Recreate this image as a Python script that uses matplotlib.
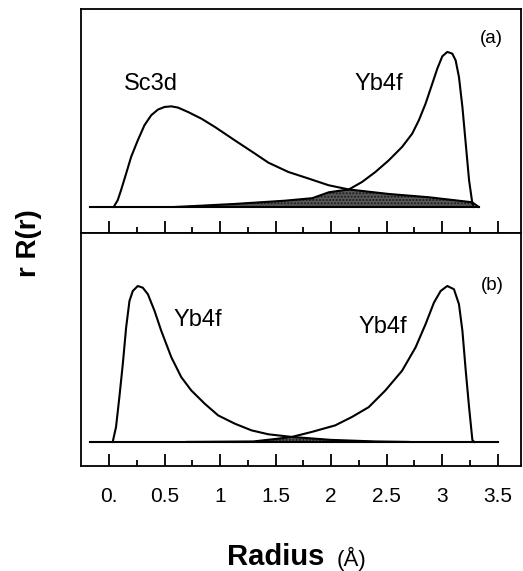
import numpy as np
import matplotlib
matplotlib.use("Agg")
import matplotlib.pyplot as plt

plt.rcParams['font.family'] = ['Liberation Sans', 'DejaVu Sans']

# panel (a): Sc3d and Yb4f radial functions (arbitrary units, Yb4f peak = 1)
sc3d_r = [0.042, 0.078, 0.108, 0.154, 0.199, 0.259, 0.319, 0.380, 0.440, 0.500, 0.561,
          0.621, 0.711, 0.832, 0.953, 1.133, 1.314, 1.435, 1.616, 1.797, 1.978, 2.16,
          2.52, 2.88, 3.27, 3.33]
sc3d_y = [0.0, 0.043, 0.107, 0.214, 0.321, 0.427, 0.524, 0.588, 0.624, 0.641, 0.645,
          0.637, 0.609, 0.566, 0.513, 0.427, 0.342, 0.284, 0.224, 0.182, 0.139, 0.112,
          0.083, 0.062, 0.030, 0.0]

yb4f_a_r = [0.60, 0.83, 1.13, 1.585, 1.83, 1.98, 2.16, 2.279, 2.399, 2.520, 2.640, 2.731,
            2.791, 2.851, 2.912, 2.957, 3.002, 3.047, 3.092, 3.122, 3.152, 3.183, 3.213,
            3.243, 3.273, 3.288]
yb4f_a_y = [0.0, 0.008, 0.019, 0.040, 0.056, 0.094, 0.112, 0.160, 0.224, 0.299, 0.385,
            0.470, 0.556, 0.662, 0.791, 0.887, 0.966, 0.994, 0.983, 0.940, 0.833, 0.641,
            0.406, 0.171, 0.021, 0.0]

# panel (b): two Yb4f functions
yb4f_l_r = [0.033, 0.063, 0.093, 0.124, 0.154, 0.184, 0.214, 0.259, 0.304, 0.350, 0.410,
            0.470, 0.561, 0.651, 0.741, 0.862, 0.983, 1.133, 1.284, 1.435, 1.646, 2.0,
            2.4, 2.7]
yb4f_l_y = [0.0, 0.096, 0.287, 0.5, 0.734, 0.904, 0.968, 1.0, 0.989, 0.947, 0.840, 0.713,
            0.543, 0.415, 0.330, 0.245, 0.170, 0.117, 0.074, 0.049, 0.032, 0.013, 0.003,
            0.0]
yb4f_r_r = [0.7, 1.3, 1.5, 1.646, 1.826, 2.037, 2.188, 2.339, 2.489, 2.640, 2.761, 2.851,
            2.927, 2.987, 3.047, 3.107, 3.152, 3.183, 3.213, 3.243, 3.273, 3.29]
yb4f_r_y = [0.0, 0.003, 0.019, 0.032, 0.064, 0.106, 0.160, 0.223, 0.330, 0.457, 0.606,
            0.755, 0.894, 0.968, 1.0, 0.979, 0.883, 0.713, 0.457, 0.223, 0.011, 0.0]

cross_a = 2.16
cross_b = 1.646
end_a = 3.288
baseline_a = (-0.17, 3.33)
baseline_b = (-0.17, 3.5)

tick_vals = [0, 0.5, 1, 1.5, 2, 2.5, 3, 3.5]
tick_labels = ["0.", "0.5", "1", "1.5", "2", "2.5", "3", "3.5"]


def style_axes(ax, ylim):
    ax.set_xlim(-0.252, 3.71)
    ax.set_ylim(*ylim)
    ax.set_yticks([])
    ax.set_xticks(tick_vals)
    ax.set_xticks(np.arange(0.25, 3.5, 0.5), minor=True)
    ax.tick_params(axis='x', which='major', direction='in', length=8.6, width=1.3,
                   labelsize=15, pad=15)
    ax.tick_params(axis='x', which='minor', direction='in', length=4.3, width=1.3)
    for s in ax.spines.values():
        s.set_linewidth(1.3)


fig = plt.figure(figsize=(5.23, 5.71), dpi=100)
ax1 = fig.add_axes([0.155, 0.592, 0.841, 0.393])
ax2 = fig.add_axes([0.155, 0.184, 0.841, 0.408])

lw = 1.5
shade = dict(facecolor='0.35', edgecolor='0.1', hatch='.....', lw=0.5)

# (a)
ax1.plot(baseline_a, [0, 0], color='black', lw=lw)
ax1.plot(sc3d_r, sc3d_y, color='black', lw=lw)
ax1.plot(yb4f_a_r, yb4f_a_y, color='black', lw=lw)
# shaded overlap: Yb4f before the crossing, Sc3d after it
ra1 = np.asarray(yb4f_a_r); ya1 = np.asarray(yb4f_a_y)
ra2 = np.asarray(sc3d_r); ya2 = np.asarray(sc3d_y)
m2 = (ra2 > cross_a) & (ra2 < end_a)
ov_r = np.concatenate([ra1[ra1 <= cross_a], ra2[m2], [end_a]])
ov_y = np.concatenate([ya1[ra1 <= cross_a], ya2[m2], [0.0]])
ax1.fill_between(ov_r, 0, ov_y, **shade)
ax1.text(0.38, 0.79, "Sc3d", fontsize=17, ha='center', va='center')
ax1.text(2.43, 0.79, "Yb4f", fontsize=17, ha='center', va='center')
ax1.text(3.44, 1.08, "(a)", fontsize=13.5, ha='center', va='center')
style_axes(ax1, (-0.167, 1.272))
ax1.set_xticklabels([])

# (b)
ax2.plot(baseline_b, [0, 0], color='black', lw=lw)
ax2.plot(yb4f_l_r, yb4f_l_y, color='black', lw=lw)
ax2.plot(yb4f_r_r, yb4f_r_y, color='black', lw=lw)
rb1 = np.asarray(yb4f_r_r); yb1 = np.asarray(yb4f_r_y)
rb2 = np.asarray(yb4f_l_r); yb2 = np.asarray(yb4f_l_y)
ovb_r = np.concatenate([rb1[rb1 <= cross_b], rb2[rb2 > cross_b]])
ovb_y = np.concatenate([yb1[rb1 <= cross_b], yb2[rb2 > cross_b]])
ax2.fill_between(ovb_r, 0, ovb_y, **shade)
ax2.text(0.80, 0.78, "Yb4f", fontsize=17, ha='center', va='center')
ax2.text(2.47, 0.74, "Yb4f", fontsize=17, ha='center', va='center')
ax2.text(3.45, 1.0, "(b)", fontsize=13.5, ha='center', va='center')
style_axes(ax2, (-0.154, 1.34))
ax2.set_xticklabels(tick_labels)

fig.text(0.055, 0.574, "r R(r)", rotation=90, fontsize=20, fontweight='bold',
         ha='center', va='center')
fig.text(0.527, 0.024, "Radius", fontsize=21, fontweight='bold', ha='center', va='center')
fig.text(0.673, 0.022, "(Å)", fontsize=16, ha='center', va='center')

fig.savefig("out.png", dpi=100)
